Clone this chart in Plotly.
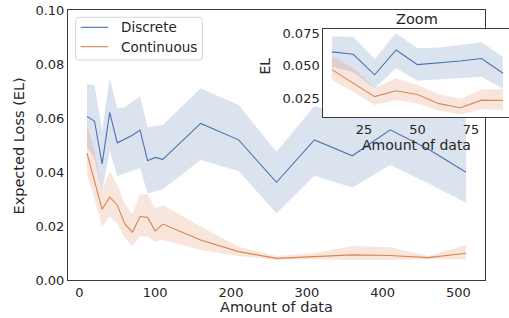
import plotly.graph_objects as go

W, H = 509, 318

# ---------------- data ----------------
x_data = [10, 20, 30, 40, 50, 60, 70, 80, 90, 100, 110, 160, 210, 260, 310, 360, 410, 460, 510]

disc_mean = [0.0606, 0.0588, 0.0430, 0.0621, 0.0508, 0.0521, 0.0536, 0.0555, 0.0442,
             0.0454, 0.0447, 0.0580, 0.0519, 0.0362, 0.0519, 0.0460, 0.0556, 0.0485, 0.0399]
disc_upper = [0.0725, 0.0722, 0.0552, 0.0750, 0.0635, 0.0640, 0.0660, 0.0680, 0.0566,
              0.0570, 0.0574, 0.0710, 0.0648, 0.0475, 0.0644, 0.0600, 0.0680, 0.0640, 0.0620]
disc_lower = [0.0494, 0.0450, 0.0326, 0.0480, 0.0385, 0.0395, 0.0403, 0.0415, 0.0320,
              0.0327, 0.0336, 0.0444, 0.0404, 0.0247, 0.0386, 0.0343, 0.0426, 0.0358, 0.0286]

cont_mean = [0.0470, 0.0367, 0.0262, 0.0307, 0.0278, 0.0208, 0.0177, 0.0235, 0.0232,
             0.0181, 0.0207, 0.0148, 0.0105, 0.0080, 0.0086, 0.0093, 0.0091, 0.0083, 0.0099]
cont_upper = [0.0575, 0.0480, 0.0330, 0.0403, 0.0352, 0.0282, 0.0244, 0.0318, 0.0318,
              0.0265, 0.0278, 0.0198, 0.0123, 0.0089, 0.0099, 0.0126, 0.0121, 0.0089, 0.0130]
cont_lower = [0.0390, 0.0300, 0.0198, 0.0236, 0.0210, 0.0154, 0.0126, 0.0164, 0.0160,
              0.0142, 0.0148, 0.0111, 0.0089, 0.0074, 0.0078, 0.0074, 0.0074, 0.0078, 0.0076]

zoom_n = 9  # points 10..90 shown in the inset

series_names = ["Discrete", "Continuous"]
main_xticks = [0, 100, 200, 300, 400, 500]
main_yticks = [0.00, 0.02, 0.04, 0.06, 0.08, 0.10]
inset_xticks = [25, 50, 75]
inset_yticks = [0.025, 0.050, 0.075]

BLUE = "#4c72b0"
ORANGE = "#dd8452"
BLUE_FILL = "rgba(76,114,176,0.2)"
ORANGE_FILL = "rgba(221,132,82,0.2)"
TXT = "#262626"
FONT = "DejaVu Sans"


def fx(v):
    return v / W


def fy(v):
    return 1 - v / H


fig = go.Figure()


def add_series(xs, mean, up, lo, color, fill, name, xa, ya):
    fig.add_trace(go.Scatter(x=xs, y=up, mode="lines", line=dict(width=0, color=color),
                             showlegend=False, hoverinfo="skip", xaxis=xa, yaxis=ya))
    fig.add_trace(go.Scatter(x=xs, y=lo, mode="lines", line=dict(width=0, color=color),
                             fill="tonexty", fillcolor=fill, showlegend=False,
                             hoverinfo="skip", xaxis=xa, yaxis=ya))
    fig.add_trace(go.Scatter(x=xs, y=mean, mode="lines", line=dict(width=1.1, color=color),
                             name=name, showlegend=False, xaxis=xa, yaxis=ya))


add_series(x_data, disc_mean, disc_upper, disc_lower, BLUE, BLUE_FILL, series_names[0], "x", "y")
add_series(x_data, cont_mean, cont_upper, cont_lower, ORANGE, ORANGE_FILL, series_names[1], "x", "y")

zx = x_data[:zoom_n]
add_series(zx, disc_mean[:zoom_n], disc_upper[:zoom_n], disc_lower[:zoom_n], BLUE, BLUE_FILL,
           series_names[0], "x2", "y2")
add_series(zx, cont_mean[:zoom_n], cont_upper[:zoom_n], cont_lower[:zoom_n], ORANGE, ORANGE_FILL,
           series_names[1], "x2", "y2")

# main axes geometry in pixels
mL, mR, mT, mB = 68, 485, 10, 280
# inset geometry
iL, iR, iT, iB = 323.3, 509, 29.3, 117.3

axis_common = dict(showgrid=False, zeroline=False, showline=True, linecolor="#3a3a3a",
                   linewidth=1, mirror=True, ticks="", 
                   tickfont=dict(family=FONT, size=13, color=TXT), automargin=False)

fig.update_layout(
    width=W, height=H,
    margin=dict(l=0, r=0, t=0, b=0),
    paper_bgcolor="white", plot_bgcolor="white",
    font=dict(family=FONT, color=TXT),
    xaxis=dict(domain=[fx(mL), fx(mR)], range=[-15, 535], tickvals=main_xticks,
               anchor="y", **axis_common),
    yaxis=dict(domain=[fy(mB), fy(mT)], range=[0, 0.1], tickvals=main_yticks,
               tickformat=".2f", anchor="x", **axis_common),
    xaxis2=dict(domain=[fx(iL), fx(iR)], range=[6, 92.8], tickvals=inset_xticks,
                anchor="y2", **axis_common),
    yaxis2=dict(domain=[fy(iB), fy(iT)], range=[0.0103, 0.078],
                tickvals=inset_yticks, tickformat=".3f", anchor="x2", **axis_common),
    showlegend=False,
)

# ---- manual legend (box, line samples, labels) ----
lx0, ly0, lx1, ly1, r = 75.7, 17.3, 202.3, 60.0, 3
path = (f"M {fx(lx0 + r)} {fy(ly0)} L {fx(lx1 - r)} {fy(ly0)} "
        f"Q {fx(lx1)} {fy(ly0)} {fx(lx1)} {fy(ly0 + r)} L {fx(lx1)} {fy(ly1 - r)} "
        f"Q {fx(lx1)} {fy(ly1)} {fx(lx1 - r)} {fy(ly1)} L {fx(lx0 + r)} {fy(ly1)} "
        f"Q {fx(lx0)} {fy(ly1)} {fx(lx0)} {fy(ly1 - r)} L {fx(lx0)} {fy(ly0 + r)} "
        f"Q {fx(lx0)} {fy(ly0)} {fx(lx0 + r)} {fy(ly0)} Z")
fig.add_shape(type="path", path=path, xref="paper", yref="paper",
              line=dict(color="#d6d6d6", width=1), fillcolor="rgba(255,255,255,0.8)", layer="above")
for name, color, yy in [(series_names[0], BLUE, 27.3), (series_names[1], ORANGE, 46.7)]:
    fig.add_shape(type="line", xref="paper", yref="paper", x0=fx(80.7), x1=fx(108.3),
                  y0=fy(yy), y1=fy(yy), line=dict(color=color, width=1.1), layer="above")
    fig.add_annotation(text=name, x=fx(119.3), y=fy(yy), xref="paper", yref="paper",
                       xanchor="left", yanchor="middle", showarrow=False,
                       font=dict(family=FONT, size=13.5, color=TXT))

ann = [
    dict(text="Amount of data", x=fx(276.5), y=fy(306.5), size=14.5, angle=0),
    dict(text="Expected Loss (EL)", x=fx(18.5), y=fy(146), size=14.5, angle=-90),
    dict(text="Amount of data", x=fx(416.7), y=fy(145), size=14, angle=0),
    dict(text="EL", x=fx(264.5), y=fy(66), size=14, angle=-90),
    dict(text="Zoom", x=fx(416.7), y=fy(18.5), size=14.5, angle=0),
]
for a in ann:
    fig.add_annotation(text=a["text"], x=a["x"], y=a["y"], xref="paper", yref="paper",
                       xanchor="center", yanchor="middle", showarrow=False, textangle=a["angle"],
                       font=dict(family=FONT, size=a["size"], color=TXT))

fig.write_html("out.html", config={"displayModeBar": False},
               post_script="document.body.style.margin='0';")
